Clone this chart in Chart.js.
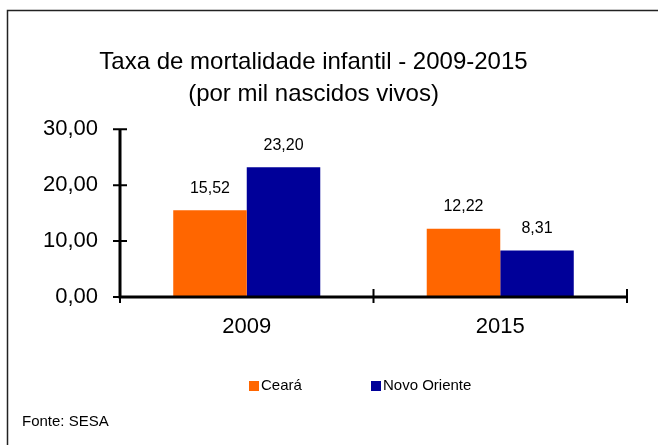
<!DOCTYPE html>
<html>
<head>
<meta charset="utf-8">
<script src="https://cdn.jsdelivr.net/npm/chart.js@4/dist/chart.umd.min.js"></script>
<style>
    html, body { margin: 0; padding: 0; background: #fff; }
    #chart-wrap { width: 658px; height: 445px; }
</style>
</head>
<body>
<div id="chart-wrap"><canvas id="mortality-chart" width="658" height="445"></canvas></div>
<script>
const years = ['2009', '2015'];
const cearaValues = [15.52, 12.22];
const novoOrienteValues = [23.20, 8.31];
const yTicks = [0, 10, 20, 30];

const FONT = "'Liberation Sans', Arial, sans-serif";

function formatBR(v) {
    return v.toFixed(2).replace('.', ',');
}

// Frame, axes with crossing ticks, value labels, legend and source note
const decorPlugin = {
    id: 'decor',
    afterDatasetsDraw(chart) {
        const ctx = chart.ctx;
        const area = chart.chartArea;
        const x = chart.scales.x;
        const y = chart.scales.y;
        ctx.save();

        // outer frame (top and left only)
        ctx.strokeStyle = '#222';
        ctx.lineWidth = 1.5;
        ctx.beginPath();
        ctx.moveTo(658, 10.5);
        ctx.lineTo(7.5, 10.5);
        ctx.lineTo(7.5, 445);
        ctx.stroke();

        // axes
        ctx.strokeStyle = '#000';
        ctx.lineWidth = 3;
        ctx.beginPath();
        ctx.moveTo(area.left, y.getPixelForValue(30));
        ctx.lineTo(area.left, y.getPixelForValue(0));
        ctx.lineTo(area.right, y.getPixelForValue(0));
        ctx.stroke();

        ctx.lineWidth = 2;
        ctx.beginPath();
        yTicks.forEach(v => {
            const py = y.getPixelForValue(v);
            ctx.moveTo(area.left - 7, py);
            ctx.lineTo(area.left + 7, py);
        });
        const p0 = x.getPixelForValue(0);
        const p1 = x.getPixelForValue(1);
        const base = y.getPixelForValue(0);
        [area.left, (p0 + p1) / 2, area.right].forEach(px => {
            ctx.moveTo(px, base - 8);
            ctx.lineTo(px, base + 6);
        });
        ctx.stroke();

        // value labels above bars
        ctx.fillStyle = '#000';
        ctx.font = '16px ' + FONT;
        ctx.textAlign = 'center';
        ctx.textBaseline = 'middle';
        chart.data.datasets.forEach((ds, i) => {
            chart.getDatasetMeta(i).data.forEach((bar, j) => {
                ctx.fillText(formatBR(ds.data[j]), bar.x, bar.y - 22);
            });
        });

        // legend
        const legendX = [249, 371];
        ctx.font = '15px ' + FONT;
        ctx.textAlign = 'left';
        chart.data.datasets.forEach((ds, i) => {
            ctx.fillStyle = ds.backgroundColor;
            ctx.fillRect(legendX[i], 381, 10, 10);
            ctx.fillStyle = '#000';
            ctx.fillText(ds.label, legendX[i] + 12, 386);
        });

        // source
        ctx.font = '15px ' + FONT;
        ctx.fillText('Fonte: SESA', 22, 422);
        ctx.restore();
    }
};

function setupChart() {
    const ctx = document.getElementById('mortality-chart').getContext('2d');
    return new Chart(ctx, {
        type: 'bar',
        data: {
            labels: years,
            datasets: [
                { label: 'Ceará', data: cearaValues, backgroundColor: '#FF6600' },
                { label: 'Novo Oriente', data: novoOrienteValues, backgroundColor: '#000099' }
            ]
        },
        options: {
            responsive: false,
            animation: false,
            layout: { padding: { left: 0, right: 31, top: 0, bottom: 98 } },
            datasets: {
                bar: { categoryPercentage: 0.58, barPercentage: 1.0 }
            },
            plugins: {
                legend: { display: false },
                tooltip: { enabled: false },
                title: {
                    display: true,
                    text: ['Taxa de mortalidade infantil - 2009-2015', '(por mil nascidos vivos)'],
                    color: '#000',
                    font: { family: FONT, size: 24, weight: 'normal', lineHeight: 1.34 },
                    padding: { top: 46, bottom: 19 }
                }
            },
            scales: {
                x: {
                    grid: { display: false, drawTicks: false },
                    border: { display: false },
                    ticks: { color: '#000', font: { family: FONT, size: 22 }, padding: 17 },
                    afterFit(scale) { scale.height = 50; }
                },
                y: {
                    min: 0,
                    max: 30,
                    grid: { display: false, drawTicks: false },
                    border: { display: false },
                    ticks: {
                        stepSize: 10,
                        color: '#000',
                        font: { family: FONT, size: 22 },
                        padding: 22,
                        callback: v => formatBR(v)
                    },
                    afterFit(scale) { scale.width = 120; }
                }
            }
        },
        plugins: [decorPlugin]
    });
}

const mortalityChart = setupChart();
</script>
</body>
</html>
